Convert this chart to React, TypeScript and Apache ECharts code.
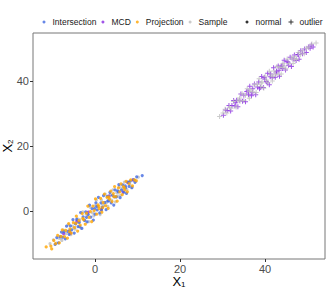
import React, { useEffect, useRef } from "react";
import * as echarts from "echarts";

// ---- data ----
const methods = ["Intersection", "MCD", "Projection", "Sample"];
const shapes = ["normal", "outlier"];
const xTicks = [0, 20, 40];
const yTicks = [0, 20, 40];

const intersectionNormal: number[][] = [
  [-9.4, -10.3], [-9.0, -8.2], [-8.6, -9.8], [-8.2, -7.9], [-7.9, -6.5], [-7.6, -8.1], [-7.3, -6.4], [-7.0, -8.6],
  [-6.7, -4.7], [-6.4, -6.3], [-6.1, -7.2], [-5.8, -4.6], [-5.5, -5.8], [-5.2, -2.7], [-4.9, -6.8], [-4.6, -4.0],
  [-4.3, -2.6], [-4.0, -4.8], [-3.7, -3.5], [-3.4, -0.5], [-3.1, -5.4], [-2.8, -1.8], [-2.5, -2.9], [-2.2, -0.3],
  [-1.9, -3.4], [-1.6, -1.1], [-1.3, 1.8], [-1.0, -1.9], [-0.7, 0.7], [-0.4, -2.8], [-0.1, 0.7], [0.2, 2.5],
  [0.5, 0.3], [0.8, 4.2], [1.1, -0.6], [1.4, 2.5], [1.7, 1.1], [2.0, 4.7], [2.3, 2.6], [2.6, 0.4], [2.9, 4.5],
  [3.2, 3.1], [3.5, 5.7], [3.8, 2.5], [4.1, 4.8], [4.4, 1.8], [4.7, 6.5], [5.0, 4.3], [5.3, 6.2], [5.6, 8.1],
  [5.9, 4.1], [6.2, 6.4], [6.5, 8.0], [6.8, 5.8], [7.1, 7.7], [7.4, 5.4], [7.7, 8.9], [8.0, 7.6], [8.3, 9.2],
  [8.7, 7.2], [9.1, 9.6], [9.4, 8.8], [9.8, 10.5], [11.1, 10.9], [-3.6, -4.8], [0.4, 1.4], [3.0, 3.1], [5.5, 5.9],
  [-6.0, -6.1], [1.5, 0.3], [-2.0, -2.0], [4.6, 4.3], [7.2, 7.2], [0.0, -1.0],
];
const projectionNormal: number[][] = [
  [-11.5, -11.1], [-10.2, -11.7], [-10.4, -10.8], [-9.7, -9.1], [-9.3, -10.1], [-8.8, -7.5], [-8.4, -9.8],
  [-8.0, -7.8], [-7.7, -5.8], [-7.2, -7.9], [-6.9, -6.0], [-6.5, -8.4], [-6.2, -3.9], [-5.9, -5.5], [-5.6, -6.8],
  [-5.1, -3.6], [-4.8, -5.1], [-4.4, -1.6], [-4.1, -6.2], [-3.8, -3.0], [-3.5, -4.4], [-3.0, -0.8], [-2.7, -2.7],
  [-2.3, -4.1], [-2.0, -0.7], [-1.7, 1.5], [-1.4, -2.0], [-1.1, -0.2], [-0.8, -3.3], [-0.5, 1.5], [-0.2, 0.1],
  [0.1, 3.7], [0.4, -1.0], [0.7, 1.9], [1.0, 0.7], [1.3, 3.9], [1.6, -0.4], [1.9, 2.6], [2.2, 5.2], [2.5, 1.6],
  [2.8, 4.2], [3.1, 0.8], [3.4, 3.6], [3.7, 6.1], [4.0, 2.9], [4.3, 5.3], [4.6, 7.5], [4.9, 4.4], [5.2, 3.0],
  [5.5, 7.1], [5.8, 5.9], [6.1, 8.3], [6.4, 5.0], [6.7, 7.5], [7.0, 6.5], [7.3, 9.1], [7.6, 5.9], [8.0, 8.4],
  [8.4, 9.6], [8.8, 7.7], [9.3, 9.6], [9.7, 9.3], [-6.0, -6.4], [-2.9, -2.3], [1.8, 1.0], [4.4, 4.4], [0.9, 1.4],
  [6.9, 7.2], [-4.5, -3.8], [3.2, 4.3],
];
const sampleNormal: number[][] = [
  [-10.6, -10.1], [-9.8, -8.9], [-9.1, -9.9], [-8.5, -8.4], [-7.8, -9.1], [-7.4, -5.9], [-6.8, -7.0], [-6.3, -4.2],
  [-5.7, -7.3], [-5.3, -4.7], [-4.7, -5.6], [-4.2, -2.4], [-3.9, -3.6], [-3.3, -5.3], [-2.9, -0.3], [-2.4, -2.9],
  [-2.1, -1.0], [-1.5, -3.3], [-1.2, 1.2], [-0.6, -0.6], [-0.3, -1.5], [0.3, 3.3], [0.6, 1.4], [1.2, -1.1],
  [1.5, 3.4], [2.1, 1.7], [2.4, 5.2], [3.0, 1.4], [3.3, 4.2], [3.9, 3.3], [4.2, 6.5], [4.8, 2.8], [5.1, 5.6],
  [5.7, 7.4], [6.0, 4.8], [6.6, 6.8], [6.9, 8.9], [7.5, 6.6], [7.9, 8.9], [8.5, 7.2], [9.0, 9.6], [9.6, 9.1],
  [10.2, 10.4], [-5.0, -5.3], [-1.8, -1.1], [0.0, 1.6], [1.8, 1.9], [3.6, 5.0], [5.4, 4.6], [-8.1, -8.5],
  [-3.6, -2.7], [2.7, 2.6], [6.3, 7.0], [8.2, 8.2],
];
const mcdNormal: number[][] = [
  [-7.4, -7.0], [-4.3, -3.2], [-1.6, -0.4], [1.5, 0.5], [3.3, 4.6], [6.6, 5.8], [7.7, 8.7], [8.9, 9.6], [-5.8, -6.8],
];
const mcdOutlier: number[][] = [
  [30.2, 29.5], [30.7, 31.1], [31.1, 30.9], [31.5, 32.5], [31.9, 30.8], [32.2, 32.5], [32.6, 34.0], [32.9, 32.3],
  [33.3, 34.1], [33.6, 32.1], [34.0, 34.1], [34.3, 36.0], [34.7, 33.8], [35.0, 35.6], [35.4, 33.6], [35.7, 36.8],
  [36.1, 35.8], [36.4, 38.4], [36.8, 35.5], [37.1, 37.6], [37.5, 39.1], [37.8, 35.8], [38.2, 38.2], [38.5, 39.7],
  [38.9, 38.1], [39.2, 41.4], [39.6, 38.0], [39.9, 40.6], [40.3, 39.9], [40.6, 42.4], [41.0, 38.9], [41.3, 42.2],
  [41.7, 41.0], [42.0, 44.1], [42.4, 41.2], [42.7, 43.0], [43.1, 44.6], [43.4, 41.5], [43.8, 44.4], [44.1, 43.9],
  [44.5, 46.4], [44.8, 43.4], [45.2, 46.0], [45.5, 44.9], [45.9, 47.3], [46.2, 44.5], [46.6, 46.8], [46.9, 48.0],
  [47.3, 46.3], [47.7, 48.2], [48.0, 46.7], [48.4, 49.3], [48.8, 48.4], [49.3, 49.9], [49.7, 48.8], [50.2, 50.5],
  [50.6, 50.1], [51.3, 50.5], [50.9, 51.1], [37.0, 36.4], [39.8, 41.1], [42.6, 42.5], [45.4, 45.8], [33.1, 33.3],
  [36.0, 36.9], [47.9, 48.2], [41.2, 41.3], [44.0, 44.9], [38.7, 37.6], [40.5, 39.5], [43.3, 43.3],
];
const sampleOutlier: number[][] = [
  [29.3, 29.1], [30.1, 30.2], [30.6, 31.3], [31.0, 30.2], [31.6, 31.9], [32.0, 31.6], [32.6, 33.7], [33.2, 32.0],
  [33.6, 34.1], [34.1, 33.8], [34.6, 36.1], [35.0, 34.0], [35.4, 35.6], [35.8, 37.6], [36.3, 34.7], [36.7, 37.3],
  [37.1, 36.7], [37.5, 38.8], [37.9, 36.5], [38.2, 39.0], [38.6, 40.7], [39.0, 38.3], [39.3, 39.7], [39.7, 37.8],
  [40.0, 41.5], [40.3, 40.3], [40.7, 39.5], [41.0, 43.0], [41.4, 41.9], [41.7, 40.0], [42.1, 43.1], [42.4, 42.1],
  [42.8, 44.5], [43.1, 42.1], [43.5, 44.2], [43.8, 42.2], [44.2, 45.4], [44.5, 44.6], [44.9, 43.8], [45.2, 46.8],
  [45.6, 45.4], [46.2, 47.1], [46.6, 45.4], [47.0, 47.5], [47.4, 46.7], [47.8, 48.8], [48.3, 48.1], [48.7, 49.3],
  [49.2, 48.4], [49.7, 50.1], [50.3, 50.4], [51.0, 51.4], [52.0, 51.7], [39.1, 39.4], [41.9, 41.4], [44.0, 44.2],
  [36.3, 36.8], [34.0, 34.8], [46.9, 46.6],
];

const colors: Record<string, string> = {
  Intersection: "#4169E1",
  MCD: "#8A2BE2",
  Projection: "#FFA500",
  Sample: "#BEBEBE",
};

const plusPath = "path://M2,0L3,0L3,2L5,2L5,3L3,3L3,5L2,5L2,3L0,3L0,2L2,2Z";
const FONT = "Liberation Sans, Arial, Helvetica, sans-serif";

export default function App() {
  const ref = useRef<HTMLDivElement>(null);
  useEffect(() => {
    if (!ref.current) return;
    const chart = echarts.init(ref.current, undefined, { renderer: "svg" });
    const dot = (name: string, data: number[][]) => ({
      type: "scatter",
      name,
      data,
      symbol: "circle",
      symbolSize: 3.2,
      itemStyle: { color: colors[name], opacity: 0.8 },
    });
    const plus = (name: string, data: number[][]) => ({
      type: "scatter",
      name,
      data,
      symbol: plusPath,
      symbolSize: 5,
      itemStyle: { color: colors[name], opacity: 0.8 },
    });
    const axisCommon = {
      type: "value",
      axisLine: { show: false, onZero: false },
      axisTick: { show: true, inside: false, length: 3, lineStyle: { color: "#333", width: 1 } },
      splitLine: { show: false },
      nameMoveOverlap: false,
    };
    const titleRich = {
      a: { fontSize: 13, color: "#000", fontFamily: FONT },
      b: { fontSize: 8, color: "#000", fontFamily: FONT, verticalAlign: "bottom", padding: [6, 0, 0, 0] },
    };
    const legendText = { fontSize: 8.5, color: "#1a1a1a", fontFamily: FONT, lineHeight: 10 };
    chart.setOption({
      animation: false,
      textStyle: { fontFamily: FONT },
      grid: {
        left: 33, right: 7, top: 33, bottom: 32,
        outerBoundsMode: "none", containLabel: false,
        show: true, borderColor: "#777", borderWidth: 1,
      },
      legend: [
        {
          data: methods, left: 42.5, top: 17, icon: "circle", itemWidth: 7, itemHeight: 3, itemGap: 5,
          padding: 0, textStyle: legendText, selectedMode: false,
        },
        {
          data: [{ name: shapes[0], icon: "circle" }], left: 245.5, top: 17, itemWidth: 7, itemHeight: 3,
          padding: 0, textStyle: legendText, selectedMode: false,
        },
        {
          data: [{ name: shapes[1], icon: plusPath }], left: 288.5, top: 17, itemWidth: 7, itemHeight: 5,
          padding: 0, textStyle: legendText, selectedMode: false,
        },
      ],
      xAxis: {
        ...axisCommon,
        min: -14.6,
        max: 54.1,
        axisTick: { ...axisCommon.axisTick, customValues: xTicks },
        axisLabel: { customValues: xTicks, fontSize: 11, color: "#4d4d4d", margin: 4, fontFamily: FONT },
        name: "{a|X}{b|1}",
        nameLocation: "middle",
        nameGap: 15,
        nameTextStyle: { rich: titleRich },
      },
      yAxis: {
        ...axisCommon,
        min: -14.8,
        max: 54.8,
        axisTick: { ...axisCommon.axisTick, customValues: yTicks },
        axisLabel: { customValues: yTicks, fontSize: 11, color: "#4d4d4d", margin: 4, fontFamily: FONT },
        name: "{a|X}{b|2}",
        nameLocation: "middle",
        nameGap: 19,
        nameRotate: 90,
        nameTextStyle: { rich: titleRich },
      },
      series: [
        dot("Sample", sampleNormal),
        plus("MCD", mcdOutlier),
        plus("Sample", sampleOutlier),
        dot("MCD", mcdNormal),
        dot("Intersection", intersectionNormal),
        dot("Projection", projectionNormal),
        { type: "scatter", name: "normal", data: [], symbol: "circle", itemStyle: { color: "#000" } },
        { type: "scatter", name: "outlier", data: [], symbol: plusPath, itemStyle: { color: "#000" } },
      ],
    });
    return () => chart.dispose();
  }, []);
  return <div ref={ref} style={{ width: 332, height: 291, position: "absolute", left: 0, top: 0 }} />;
}
